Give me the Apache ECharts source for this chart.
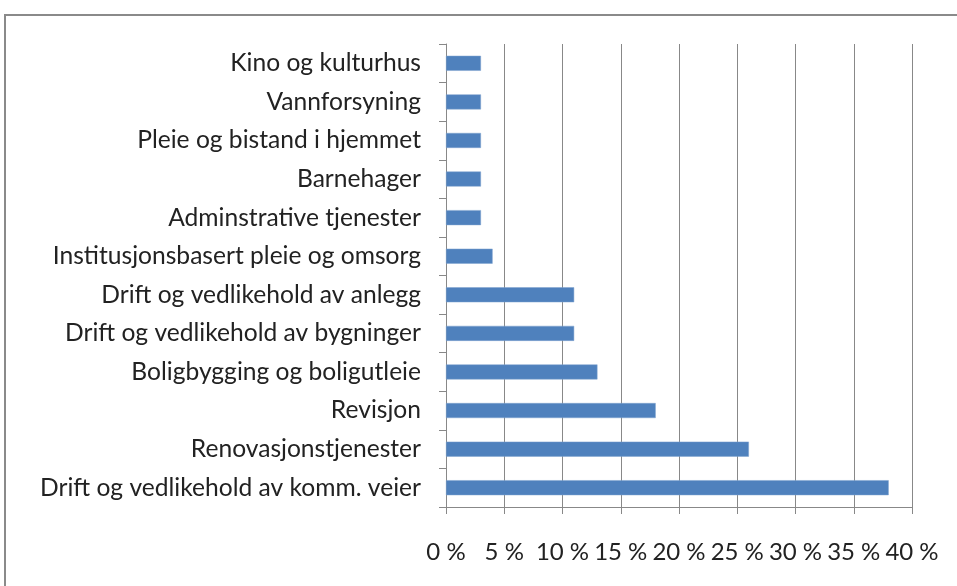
<!DOCTYPE html>
<html>
<head>
<meta charset="utf-8">
<script src="https://cdn.jsdelivr.net/npm/echarts@6/dist/echarts.min.js"></script>
<style>
  html, body { margin: 0; padding: 0; background: #fff; }
  #main { width: 957px; height: 586px; }
</style>
</head>
<body>
<div id="main"></div>
<script>
var categories = [
    'Kino og kulturhus',
    'Vannforsyning',
    'Pleie og bistand i hjemmet',
    'Barnehager',
    'Adminstrative tjenester',
    'Institusjonsbasert pleie og omsorg',
    'Drift og vedlikehold av anlegg',
    'Drift og vedlikehold av bygninger',
    'Boligbygging og boligutleie',
    'Revisjon',
    'Renovasjonstjenester',
    'Drift og vedlikehold av komm. veier'
];
var values = [3, 3, 3, 3, 3, 4, 11, 11, 13, 18, 26, 38];
var xTicks = [0, 5, 10, 15, 20, 25, 30, 35, 40];

var myChart = echarts.init(document.getElementById('main'));
var option = {
    animation: false,
    backgroundColor: '#fff',
    graphic: [{
        type: 'rect',
        shape: { x: 5, y: 15, width: 1000, height: 1000 },
        style: { fill: 'none', stroke: '#8a8a8a', lineWidth: 2 },
        silent: true
    }],
    grid: { left: 446, right: 45, top: 44, bottom: 79 },
    xAxis: {
        type: 'value',
        min: xTicks[0],
        max: xTicks[xTicks.length - 1],
        interval: 5,
        axisLine: { show: true, lineStyle: { color: '#888', width: 1 } },
        axisTick: { show: true, length: 7, lineStyle: { color: '#888' } },
        splitLine: { show: true, lineStyle: { color: '#888', width: 1 } },
        axisLabel: {
            margin: 33,
            color: '#222',
            fontFamily: 'Lato',
            fontSize: 24,
            formatter: function (v) { return v + ' %'; }
        }
    },
    yAxis: {
        type: 'category',
        inverse: true,
        data: categories,
        axisLine: { show: true, lineStyle: { color: '#888', width: 1 } },
        axisTick: { show: true, length: 7, lineStyle: { color: '#888' } },
        axisLabel: {
            margin: 25,
            color: '#222',
            fontFamily: 'Lato',
            fontSize: 24.6
        }
    },
    series: [{
        type: 'bar',
        data: values,
        barWidth: 15,
        itemStyle: { color: '#4F81BD', borderColor: '#7fa3cf', borderWidth: 0.5 }
    }]
};
myChart.setOption(option);
</script>
</body>
</html>
